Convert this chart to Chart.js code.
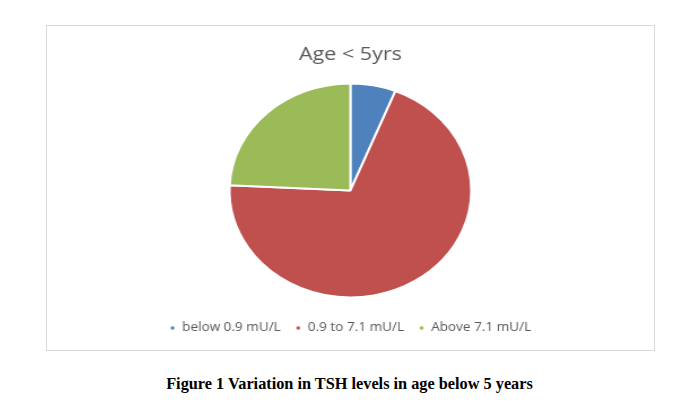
<!DOCTYPE html>
<html>
<head>
<meta charset="utf-8">
<script src="https://cdn.jsdelivr.net/npm/chart.js@4.4.1/dist/chart.umd.min.js"></script>
<style>
  html, body { margin: 0; padding: 0; background: #fff; }
  body { width: 699px; height: 407px; position: relative; overflow: hidden; }
  #box { position: absolute; left: 46px; top: 25px; width: 607px; height: 324px; border: 1px solid #d9d9d9; overflow: hidden; }
  #stretch { width: 537px; height: 324px; transform: scaleX(1.13); transform-origin: 0 0; }
  #stretch canvas { display: block; }
  #caption { position: absolute; left: 0; width: 699px; top: 374px; text-align: center;
    font-family: "Liberation Serif", "Times New Roman", serif; font-weight: bold; font-size: 16.3px; color: #000; }
</style>
</head>
<body>
<div id="box"><div id="stretch"><canvas id="c" width="537" height="324"></canvas></div></div>
<div id="caption">Figure 1 Variation in TSH levels in age below 5 years</div>
<script>
const categories = ["below 0.9 mU/L", "0.9 to 7.1 mU/L", "Above 7.1 mU/L"];
const values = [2, 23, 8];
const colors = ["#4F81BD", "#C0504D", "#9BBB59"];
const chartTitle = "Age < 5yrs";

new Chart(document.getElementById("c"), {
  type: "pie",
  data: {
    labels: categories,
    datasets: [{
      data: values,
      backgroundColor: colors,
      borderColor: "#ffffff",
      borderWidth: 2,
      radius: 107
    }]
  },
  options: {
    responsive: false,
    animation: false,
    layout: { padding: { top: 0, bottom: 6, left: 0, right: 0 } },
    plugins: {
      title: {
        display: true,
        text: chartTitle,
        color: "#595959",
        font: { family: "Open Sans", size: 19, weight: "normal" },
        padding: { top: 17, bottom: 6 }
      },
      legend: {
        position: "bottom",
        labels: {
          color: "#595959",
          font: { family: "Open Sans", size: 12 },
          boxWidth: 5,
          boxHeight: 5,
          padding: 13
        }
      },
      tooltip: { enabled: false }
    }
  }
});
</script>
</body>
</html>
